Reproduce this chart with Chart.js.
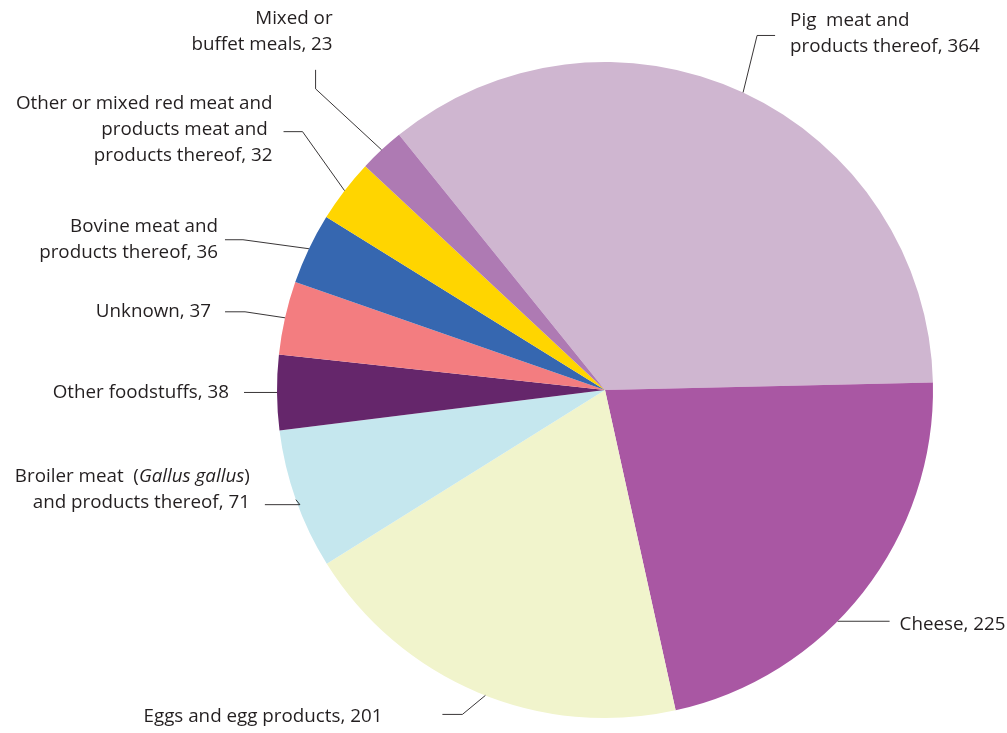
<!DOCTYPE html>
<html>
<head>
<meta charset="utf-8">
<script src="https://cdn.jsdelivr.net/npm/chart.js@4.4.1/dist/chart.umd.min.js"></script>
<style>
  html, body { margin: 0; padding: 0; background: #ffffff; }
  canvas { display: block; }
</style>
</head>
<body>
<canvas id="pie" width="1007" height="733"></canvas>
<script>
// Reported outbreaks by food vehicle
const categories = [
  'Pig meat and products thereof',
  'Cheese',
  'Eggs and egg products',
  'Broiler meat (Gallus gallus) and products thereof',
  'Other foodstuffs',
  'Unknown',
  'Bovine meat and products thereof',
  'Other or mixed red meat and products meat and products thereof',
  'Mixed or buffet meals'
];
const counts = [364, 225, 201, 71, 38, 37, 36, 32, 23];
const sliceColours = [
  '#cfb6d0', '#a957a3', '#f1f4cc', '#c5e7ee', '#65266b',
  '#f37d80', '#3667b0', '#ffd500', '#ae7ab3'
];
// Label wording; the value is appended to the last line.
// A line may be a list of [text, italic] runs.
const labelLines = [
  ['Pig  meat and', 'products thereof'],
  ['Cheese'],
  ['Eggs and egg products'],
  [[['Broiler meat  (', false], ['Gallus gallus', true], [')', false]], 'and products thereof'],
  ['Other foodstuffs'],
  ['Unknown'],
  ['Bovine meat and', 'products thereof'],
  ['Other or mixed red meat and', 'products meat and ', 'products thereof'],
  ['Mixed or', 'buffet meals']
];

// Leader line geometry: frac = position along the slice edge,
// elbow = offset from the rim point, tail = offset from the elbow,
// text = offset of the text block from the tail end.
const leaderLayout = [
  { frac: 0.5,  elbow: [14, -57], tail: [18, 0],   align: 'left',  text: [15, -2] },
  { frac: 0.585, elbow: [0, 0],   tail: [52, 0],   align: 'left',  text: [10, 3] },
  { frac: 0.48, elbow: [-23, 19], tail: [-20, 0],  align: 'right', text: [-60, 2] },
  { frac: 0.5,  elbow: [4, 5],    tail: [-35, 0],  align: 'right', text: [-15, -15] },
  { frac: 0.5,  elbow: [0, 0],    tail: [-33, 0],  align: 'right', text: [-15, 0] },
  { frac: 0.5,  elbow: [-40, -6], tail: [-20, 0],  align: 'right', text: [-14, 0] },
  { frac: 0.5,  elbow: [-66, -9], tail: [-18, 0],  align: 'right', text: [-7, 0] },
  { frac: 0.5,  elbow: [-42, -59], tail: [-19, 0], align: 'right', text: [-11, -2] },
  { frac: 0.5,  elbow: [-66, -61], tail: [0, -19], align: 'right', text: [17, -38] }
];

const FONT_FAMILY = '"Open Sans", "Noto Sans", sans-serif';
const FONT_SIZE = 18.8;
const LINE_HEIGHT = 26;
const INK = '#231f20';

function runsOf(line) {
  return typeof line === 'string' ? [[line, false]] : line;
}
function fontFor(italic) {
  return (italic ? 'italic ' : '') + FONT_SIZE + 'px ' + FONT_FAMILY;
}

const leaderLabels = {
  id: 'leaderLabels',
  afterDatasetsDraw(chart) {
    const ctx = chart.ctx;
    const meta = chart.getDatasetMeta(0);
    ctx.save();
    meta.data.forEach((arc, i) => {
      const p = arc.getProps(['x', 'y', 'startAngle', 'endAngle', 'outerRadius'], true);
      const cfg = leaderLayout[i];
      const ang = p.startAngle + (p.endAngle - p.startAngle) * cfg.frac;
      const ax = p.x + Math.cos(ang) * p.outerRadius;
      const ay = p.y + Math.sin(ang) * p.outerRadius;
      const ex = ax + cfg.elbow[0], ey = ay + cfg.elbow[1];
      const tx = ex + cfg.tail[0], ty = ey + cfg.tail[1];

      ctx.strokeStyle = INK;
      ctx.lineWidth = 0.9;
      ctx.beginPath();
      ctx.moveTo(ax, ay);
      ctx.lineTo(ex, ey);
      ctx.lineTo(tx, ty);
      ctx.stroke();

      const lines = labelLines[i].map(runsOf).map(r => r.slice());
      const last = lines[lines.length - 1];
      last.push([', ' + counts[i], false]);

      const bx = tx + cfg.text[0];
      const cy = ty + cfg.text[1];
      const top = cy - (lines.length - 1) * LINE_HEIGHT / 2;
      ctx.fillStyle = INK;
      ctx.textBaseline = 'middle';
      ctx.textAlign = 'left';
      lines.forEach((runs, li) => {
        let w = 0;
        runs.forEach(([t, it]) => { ctx.font = fontFor(it); w += ctx.measureText(t).width; });
        let x = cfg.align === 'right' ? bx - w : bx;
        const y = top + li * LINE_HEIGHT;
        runs.forEach(([t, it]) => {
          ctx.font = fontFor(it);
          ctx.fillText(t, x, y);
          x += ctx.measureText(t).width;
        });
      });
    });
    ctx.restore();
  }
};

new Chart(document.getElementById('pie'), {
  type: 'pie',
  data: {
    labels: categories,
    datasets: [{
      data: counts,
      backgroundColor: sliceColours,
      borderWidth: 0
    }]
  },
  options: {
    responsive: false,
    devicePixelRatio: 1,
    animation: false,
    rotation: -38.9,
    layout: { padding: { left: 277, right: 74, top: 62, bottom: 15 } },
    plugins: {
      legend: { display: false },
      tooltip: { enabled: false }
    }
  },
  plugins: [leaderLabels]
});
</script>
</body>
</html>
